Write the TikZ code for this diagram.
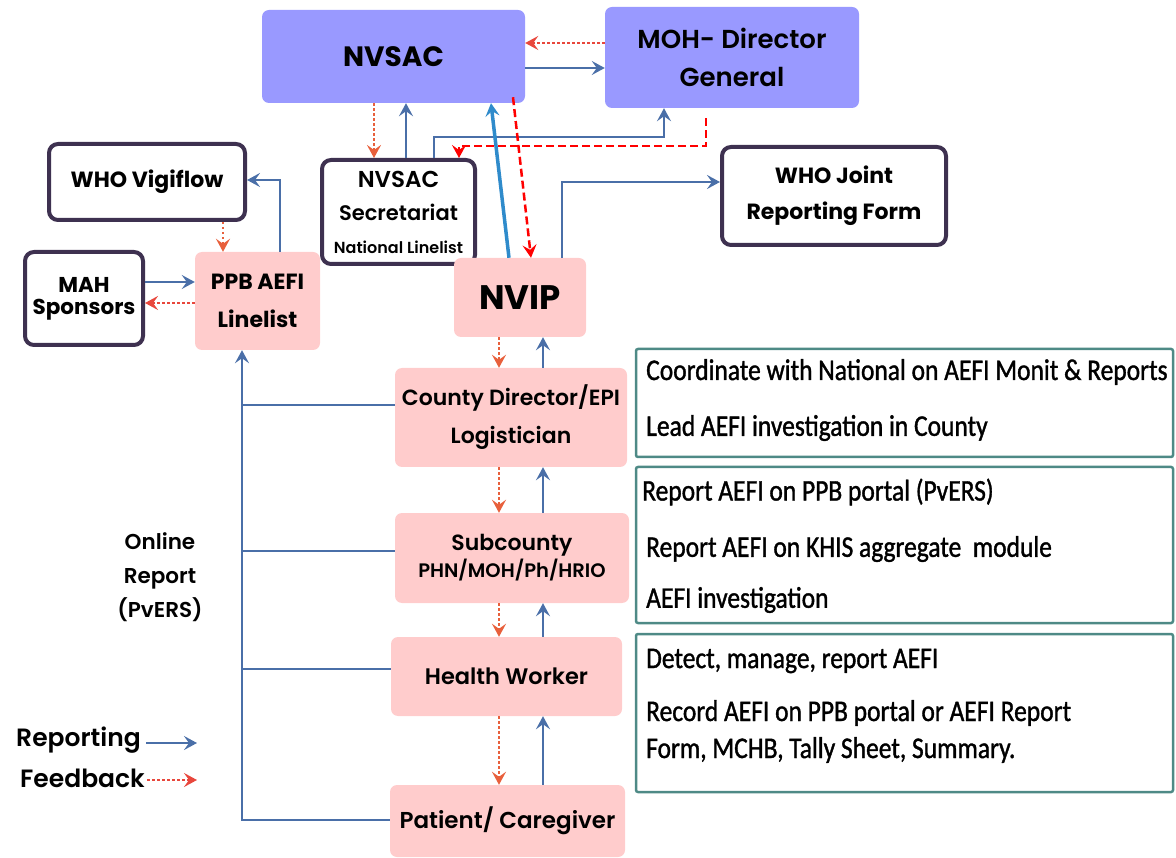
\documentclass[tikz,border=0pt]{standalone}
\usepackage{fontspec}
\setmainfont{Poppins}
\newfontfamily\semifont{Poppins SemiBold}
\newfontfamily\dinfont[FakeStretch=0.85,FakeBold=1.2]{Carlito}
\usetikzlibrary{arrows.meta}

\definecolor{nvblue}{HTML}{4A6FA8}
\definecolor{fborange}{HTML}{E8603C}
\definecolor{fbred}{HTML}{E8473C}
\definecolor{lilac}{HTML}{9999FF}
\definecolor{rose}{HTML}{FFCCCC}
\definecolor{plum}{HTML}{3E3150}
\definecolor{tealedge}{HTML}{4E8A86}
\definecolor{skyline}{HTML}{2F8BCB}

\begin{document}
\begin{tikzpicture}[x=1pt,y=-1pt,
   lvl/.style={fill=rose, rounded corners=7pt, align=center, inner sep=0pt},
   topbox/.style={fill=lilac, rounded corners=7pt, align=center, inner sep=0pt},
   ext/.style={draw=plum, line width=4pt, fill=white, rounded corners=9pt, align=center, inner sep=0pt},
   duty/.style={draw=tealedge, line width=2.5pt, rounded corners=2pt, inner sep=0pt},
   dline/.style={font=\dinfont\fontsize{30}{36}\selectfont, anchor=west, inner sep=0pt},
   tip/.style={-{Stealth[length=13pt,width=14pt,inset=5pt]}},
   rep/.style={draw=nvblue, line width=2.6pt, tip},
   fb/.style={draw=fborange, line width=2.5pt, dash pattern=on 2.5pt off 2.5pt, tip},
   fbr/.style={draw=fbred, line width=2.5pt, dash pattern=on 2.5pt off 2.5pt, tip},
   fbd/.style={draw=red, line width=2.5pt, dash pattern=on 8pt off 4pt, tip},
   sky/.style={draw=skyline, line width=3.5pt, tip}]
   \useasboundingbox (0,0) rectangle (1176,858);

   % national level
   \node[topbox, minimum width=263pt, minimum height=93pt, font=\bfseries\fontsize{28}{30}\selectfont] (nvsac) at (393.5,56.5) {NVSAC};
   \node[topbox, minimum width=254pt, minimum height=101pt, font=\semifont\fontsize{26}{38}\selectfont] (moh) at (732,57.5) {MOH- Director\\General};
   \node[ext, minimum width=153pt, minimum height=104pt, font=\semifont\fontsize{21}{33}\selectfont] (sec) at (398.5,212) {{\fontsize{23}{33}\selectfont NVSAC}\\Secretariat\\{\fontsize{16}{22}\selectfont National Linelist}};
   \node[ext, minimum width=224pt, minimum height=98pt, font=\bfseries\fontsize{22}{36}\selectfont] (jrf) at (834,196) {WHO Joint\\Reporting Form};
   \node[ext, minimum width=196pt, minimum height=76pt, font=\bfseries\fontsize{22}{24}\selectfont] (vigi) at (147,182) {WHO Vigiflow};
   \node[ext, minimum width=118pt, minimum height=93pt, font=\bfseries\fontsize{21.5}{22}\selectfont] (mah) at (84,298.5) {MAH\\Sponsors};
   \node[lvl, minimum width=125pt, minimum height=98pt, font=\bfseries\fontsize{22}{38}\selectfont] (ppb) at (257.5,301) {PPB AEFI\\Linelist};
   \node[lvl, minimum width=132pt, minimum height=79pt, font=\bfseries\fontsize{34}{40}\selectfont] (nvip) at (520,297.5) {NVIP};

   % county to patient
   \node[lvl, minimum width=232pt, minimum height=99pt, font=\semifont\fontsize{22}{38}\selectfont] (county) at (511,417.5) {County Director/EPI\\Logistician};
   \node[lvl, minimum width=234pt, minimum height=90pt, font=\semifont\fontsize{22}{27}\selectfont] (subc) at (512,558) {Subcounty\\{\fontsize{19.5}{27}\selectfont PHN/MOH/Ph/HRIO}};
   \node[lvl, minimum width=231pt, minimum height=79pt, font=\semifont\fontsize{22.5}{26}\selectfont] (hw) at (506.5,676.5) {Health Worker};
   \node[lvl, minimum width=235pt, minimum height=72pt, font=\semifont\fontsize{23}{26}\selectfont] (pat) at (507.5,821) {Patient/ Caregiver};

   % duties
   \node[duty, minimum width=537pt, minimum height=108pt] (dcounty) at (904.5,403) {};
   \node[duty, minimum width=537pt, minimum height=156pt] (dsubc) at (904.5,545) {};
   \node[duty, minimum width=537pt, minimum height=158pt] (dhw) at (904.5,713) {};
   \foreach \n/\x/\y/\t in {d1/646/372/{Coordinate with National on AEFI Monit \& Reports},
                            d2/646/428/{Lead AEFI investigation in County},
                            d3/642/492/{Report AEFI on PPB portal (PvERS)},
                            d4/646/549/{Report AEFI on KHIS aggregate \ module},
                            d5/646/600/{AEFI investigation},
                            d6/646/661/{Detect, manage, report AEFI},
                            d7/646/713/{Record AEFI on PPB portal or AEFI Report},
                            d8/646/750/{Form, MCHB, Tally Sheet, Summary.}}
      \node[dline] (\n) at (\x,\y) {\t};

   % side labels and legend
   \node[font=\semifont\fontsize{21.5}{34}\selectfont, align=center] (online) at (160,577) {Online\\Report\\(PvERS)};
   \node[font=\semifont\fontsize{25}{26}\selectfont, anchor=east, inner sep=0pt] (lrep) at (141,740) {Reporting};
   \node[font=\semifont\fontsize{25}{26}\selectfont, anchor=east, inner sep=0pt] (lfb) at (145,778) {Feedback};
   \coordinate (lrepend) at (197,743);
   \coordinate (lfbend) at (197,780);
   \draw[rep] ([xshift=5pt,yshift=-3pt]lrep.east) -- (lrepend);
   \draw[fbr] ([xshift=2pt,yshift=-2pt]lfb.east) -- (lfbend);

   % top connectors
   \draw[rep] ([yshift=-11.5pt]nvsac.east) -- ([yshift=-11.5pt]nvsac.east -| moh.west);
   \draw[fbr] ([yshift=13.5pt]nvsac.east -| moh.west) -- ([yshift=13.5pt]nvsac.east);
   \draw[fb] ([xshift=-24.5pt]sec.north |- nvsac.south) -- ([xshift=-24.5pt]sec.north);
   \draw[rep] ([xshift=7.5pt]sec.north) -- ([xshift=7.5pt]sec.north |- nvsac.south);
   \draw[rep] ([xshift=35.5pt]sec.north) -- ++(0,-21) -| ([xshift=-68pt]moh.south);
   \draw[fbd] ([xshift=-26pt,yshift=-10pt]moh.south) -- ++(0,28) -| ([xshift=60.5pt]sec.north);
   \draw[sky] ([xshift=-11pt]nvip.north) -- ([xshift=97.5pt]nvsac.south);
   \draw[fbd] ([xshift=119.5pt,yshift=6pt]nvsac.south) -- ([xshift=11pt]nvip.north);
   \draw[rep] ([xshift=42pt]nvip.north) |- ([yshift=14pt]jrf.west);

   % PPB links
   \draw[rep] ([xshift=22.5pt]ppb.north) |- ([yshift=2pt]vigi.east);
   \draw[fb] ([xshift=-34.5pt]ppb.north |- vigi.south) -- ([xshift=-34.5pt]ppb.north);
   \draw[rep] ([yshift=16.5pt]mah.east) -- ([yshift=16.5pt]mah.east -| ppb.west);
   \draw[fbr] ([yshift=-4.5pt]mah.east -| ppb.west) -- ([yshift=-4.5pt]mah.east);

   % reporting chain
   \coordinate (fbx) at (499,0);
   \coordinate (repx) at (543,0);
   \draw[fb] (nvip.south -| fbx) -- (county.north -| fbx);
   \draw[rep] (county.north -| repx) -- (nvip.south -| repx);
   \draw[fb] (county.south -| fbx) -- (subc.north -| fbx);
   \draw[rep] (subc.north -| repx) -- (county.south -| repx);
   \draw[fb] (subc.south -| fbx) -- (hw.north -| fbx);
   \draw[rep] (hw.north -| repx) -- (subc.south -| repx);
   \draw[fb] (hw.south -| fbx) -- (pat.north -| fbx);
   \draw[rep] (pat.north -| repx) -- (hw.south -| repx);

   % online reporting bus
   \coordinate (bus) at (242,820);
   \draw[rep] ([yshift=1pt]pat.west) -- ([yshift=1pt]pat.west -| bus) -- (bus |- ppb.south);
   \draw[draw=nvblue, line width=2.6pt] ([yshift=7.5pt]hw.west) -- ([yshift=7.5pt]hw.west -| bus);
   \draw[draw=nvblue, line width=2.6pt] ([yshift=7pt]subc.west) -- ([yshift=7pt]subc.west -| bus);
   \draw[draw=nvblue, line width=2.6pt] ([yshift=12.5pt]county.west) -- ([yshift=12.5pt]county.west -| bus);
\end{tikzpicture}
\end{document}
